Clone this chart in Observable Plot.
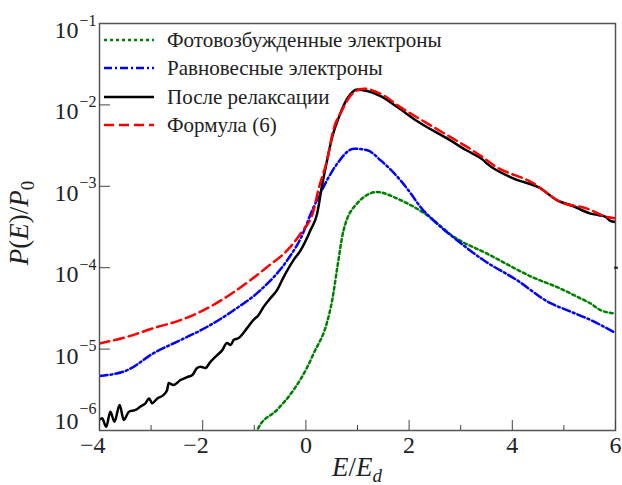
<!DOCTYPE html>
<html><head><meta charset="utf-8">
<script src="https://cdn.jsdelivr.net/npm/d3@7"></script>
<script src="https://cdn.jsdelivr.net/npm/@observablehq/plot@0.6"></script>
<style>body{margin:0;background:#fff} svg{display:block}</style>
</head><body><div id="chart"></div>
<script>
// Photo-excited electrons (green dotted)
const photoE = [-0.98, -0.91, -0.56, -0.24, 0.03, 0.15, 0.41, 0.51, 0.61, 0.73, 0.99, 1.38, 1.77, 2.35, 2.87, 3.51, 4.42, 4.93, 5.32, 5.52, 5.71, 6.0];
const photoP = [9.1e-7, 1.11e-6, 1.79e-6, 3.14e-6, 6.07e-6, 8.85e-6, 2.14e-5, 3.99e-5, 1.02e-4, 2.88e-4, 6.14e-4, 8.5e-4, 7.06e-4, 4.41e-4, 2.39e-4, 1.49e-4, 7.5e-5, 5.56e-5, 4.2e-5, 3.63e-5, 3.01e-5, 2.74e-5];
// Equilibrium electrons (blue dash-dot)
const equilE = [-4.0, -3.46, -2.95, -2.43, -1.91, -1.40, -0.88, -0.36, -0.10, 0.15, 0.28, 0.41, 0.61, 0.93, 1.19, 1.45, 1.83, 2.03, 2.22, 2.47, 2.93, 3.44, 4.09, 4.74, 5.06, 5.52, 6.0];
const equilP = [4.67e-6, 5.52e-6, 8.93e-6, 1.29e-5, 1.88e-5, 3.0e-5, 5.30e-5, 1.24e-4, 2.30e-4, 5.57e-4, 8.2e-4, 1.19e-3, 1.91e-3, 2.90e-3, 2.77e-3, 2.08e-3, 1.19e-3, 8.2e-4, 5.57e-4, 3.83e-4, 2.17e-4, 1.24e-4, 7.03e-5, 3.66e-5, 3.01e-5, 2.27e-5, 1.58e-5];
// After relaxation (black solid)
const relaxE = [-4.0, -3.95, -3.87, -3.79, -3.71, -3.61, -3.53, -3.43, -3.30, -3.21, -3.11, -3.04, -2.98, -2.88, -2.76, -2.69, -2.66, -2.57, -2.43, -2.30, -2.20, -2.11, -2.04, -1.95, -1.85, -1.72, -1.62, -1.53, -1.46, -1.40, -1.31, -1.14, -1.02, -0.92, -0.82, -0.72, -0.56, -0.43, -0.24, -0.10, 0.09, 0.22, 0.31, 0.41, 0.51, 0.64, 0.80, 1.00, 1.19, 1.45, 1.77, 2.16, 2.80, 3.11, 3.42, 3.51, 4.02, 4.55, 4.87, 5.13, 5.22, 5.35, 5.52, 5.68, 5.81, 5.90, 6.0];
const relaxP = [1.35e-6, 1.41e-6, 1.11e-6, 1.70e-6, 1.28e-6, 2.06e-6, 1.35e-6, 1.70e-6, 1.79e-6, 1.96e-6, 2.16e-6, 2.48e-6, 2.16e-6, 2.48e-6, 2.73e-6, 3.14e-6, 3.83e-6, 3.61e-6, 4.17e-6, 4.53e-6, 4.80e-6, 5.85e-6, 6.07e-6, 5.85e-6, 6.98e-6, 8.44e-6, 9.72e-6, 1.19e-5, 1.12e-5, 1.29e-5, 1.36e-5, 1.81e-5, 2.27e-5, 2.61e-5, 3.30e-5, 3.99e-5, 5.30e-5, 7.71e-5, 1.24e-4, 1.64e-4, 2.9e-4, 4.67e-4, 1.0e-3, 2.08e-3, 4.03e-3, 7.08e-3, 1.19e-2, 1.55e-2, 1.48e-2, 1.28e-2, 9.4e-3, 6.3e-3, 3.66e-3, 2.77e-3, 2.14e-3, 1.90e-3, 1.25e-3, 9.4e-4, 6.73e-4, 5.85e-4, 5.57e-4, 5.08e-4, 4.62e-4, 4.41e-4, 4.21e-4, 3.76e-4, 3.65e-4];
// Formula (6) (red dashed)
const formulaE = [-4.0, -3.46, -2.95, -2.43, -1.98, -1.40, -0.75, -0.36, -0.10, 0.15, 0.24, 0.41, 0.53, 0.70, 0.90, 1.12, 1.45, 1.83, 2.47, 3.42, 3.64, 4.41, 4.93, 5.45, 5.84, 6.0];
const formulaP = [1.17e-5, 1.42e-5, 1.81e-5, 2.27e-5, 3.01e-5, 5.0e-5, 1.02e-4, 1.64e-4, 2.65e-4, 5.08e-4, 9.0e-4, 2.08e-3, 4.86e-3, 8.57e-3, 1.37e-2, 1.58e-2, 1.37e-2, 9.4e-3, 5.35e-3, 2.29e-3, 1.81e-3, 1.09e-3, 6.43e-4, 5.32e-4, 4.2e-4, 4.05e-4];

const seriesNames = ["Фотовозбужденные электроны", "Равновесные электроны", "После релаксации", "Формула (6)"];
const seriesColors = ["#008000", "#0000ff", "#000000", "#ff0000"];
const seriesDash = ["3,3", "8,3,2,3", null, "10,5"];

const xTickValues = [-4, -2, 0, 2, 4, 6];
const xTickLabels = ["−4", "−2", "0", "2", "4", "6"];
const xMinorTicks = [-3, -1, 1, 3, 5];
const yTickValues = [1e-1, 1e-2, 1e-3, 1e-4, 1e-5];
const yTickExponents = ["−1", "−2", "−3", "−4", "−5"];
const yBottomTick = [1e-6];
const yBottomExponent = ["−6"];

const FONT = "'Liberation Serif', 'Times New Roman', Tinos, 'DejaVu Serif', serif";

const rows = (E, P) => E.map((e, i) => ({E: e, P: P[i]}));
const seriesData = [rows(photoE, photoP), rows(equilE, equilP), rows(relaxE, relaxP), rows(formulaE, formulaP)];

const lineMarks = seriesData.map((d, i) => Plot.line(d, {
  x: "E", y: "P", stroke: seriesColors[i], strokeWidth: 2.5,
  strokeDasharray: seriesDash[i], curve: "monotone-x", clip: true
}));

const svg = Plot.plot({
  width: 622, height: 485,
  marginLeft: 99, marginRight: 7, marginTop: 23, marginBottom: 55,
  style: {fontFamily: FONT, background: "white", color: "black", overflow: "visible"},
  x: {domain: [-4, 6]},
  y: {type: "log", domain: [1e-6, 1e-1]},
  marks: [
    ...lineMarks,
    Plot.frame({stroke: "#555", strokeWidth: 1.5}),
    Plot.axisX({ticks: xTickValues, tickSize: 10, dy: -10, tickFormat: () => "", label: null, stroke: "#444"}),
    Plot.axisX({ticks: xMinorTicks, tickSize: 5, dy: -5, tickFormat: () => "", label: null, stroke: "#444"}),
    Plot.axisY({ticks: yTickValues.slice(1), tickSize: 11, dx: 11, tickFormat: () => "", label: null, stroke: "#444"}),
    Plot.axisY({anchor: "right", ticks: [1e-4], tickSize: 4, dx: -2, tickFormat: () => "", label: null, stroke: "#222", strokeWidth: 2}),
    Plot.text(xTickValues, {x: d => d, text: (d, i) => xTickLabels[i], frameAnchor: "bottom", textAnchor: "end", lineAnchor: "bottom", dx: 6, dy: 22, fontSize: 24, fill: "#222"}),
    Plot.text(yTickValues, {y: d => d, text: () => "10", frameAnchor: "left", textAnchor: "end", lineAnchor: "bottom", dx: -21, dy: 14.5, fontSize: 24, fill: "#222"}),
    Plot.text(yTickValues, {y: d => d, text: (d, i) => yTickExponents[i], frameAnchor: "left", textAnchor: "start", lineAnchor: "bottom", dx: -20, dy: 2, fontSize: 16, fill: "#222"}),
    Plot.text(yBottomTick, {y: d => d, text: () => "10", frameAnchor: "left", textAnchor: "end", lineAnchor: "bottom", dx: -21, dy: -2, fontSize: 24, fill: "#222"}),
    Plot.text(yBottomTick, {y: d => d, text: (d, i) => yBottomExponent[i], frameAnchor: "left", textAnchor: "start", lineAnchor: "bottom", dx: -20, dy: -17, fontSize: 16, fill: "#222"})
  ]
});

const s = d3.select(svg);
// Axis labels
const yl = s.append("text").attr("transform", "translate(28,223) rotate(-90)")
  .attr("text-anchor", "middle").attr("font-size", 27).attr("fill", "#222").style("font-family", FONT);
yl.append("tspan").attr("font-style", "italic").text("P");
yl.append("tspan").text("(");
yl.append("tspan").attr("font-style", "italic").text("E");
yl.append("tspan").text(")/");
yl.append("tspan").attr("font-style", "italic").text("P");
yl.append("tspan").attr("font-size", 19).attr("dy", 6).text("0");

const xl = s.append("text").attr("x", 357).attr("y", 476)
  .attr("text-anchor", "middle").attr("font-size", 27).attr("fill", "#222").style("font-family", FONT);
xl.append("tspan").attr("font-style", "italic").text("E");
xl.append("tspan").text("/");
xl.append("tspan").attr("font-style", "italic").text("E");
xl.append("tspan").attr("font-style", "italic").attr("font-size", 19).attr("dy", 6).text("d");

// Legend
const legendY = [40, 68, 97, 125];
const lg = s.append("g");
seriesNames.forEach((name, i) => {
  lg.append("line").attr("x1", 104).attr("x2", 154).attr("y1", legendY[i]).attr("y2", legendY[i])
    .attr("stroke", seriesColors[i]).attr("stroke-width", 2.5)
    .attr("stroke-dasharray", seriesDash[i]);
  lg.append("text").attr("x", 167).attr("y", legendY[i] + 7).attr("font-size", 21)
    .attr("text-anchor", "start").style("font-family", FONT).attr("fill", "#222").text(name);
});

document.getElementById("chart").appendChild(svg);
</script>
</body></html>
